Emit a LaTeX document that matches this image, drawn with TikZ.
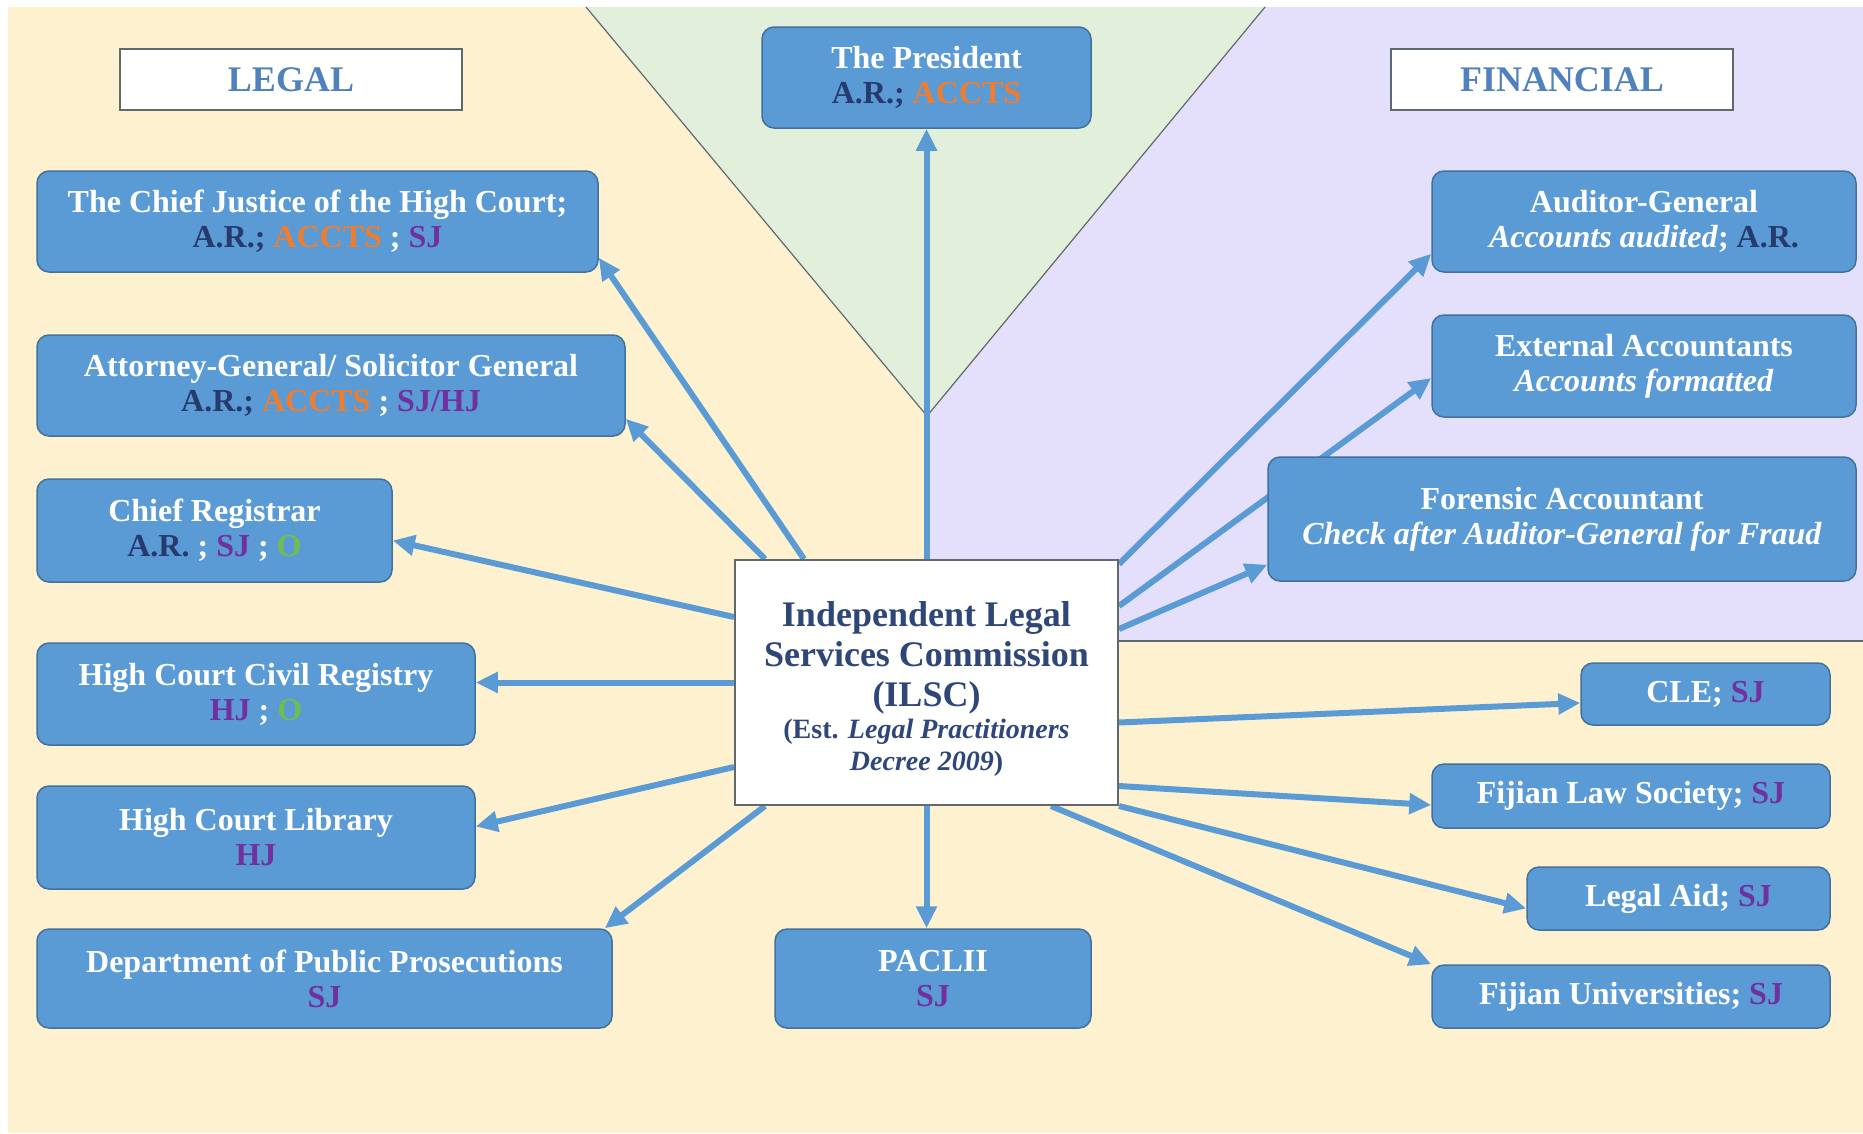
\documentclass[tikz,border=0pt]{standalone}
\usepackage{fontspec}
\setmainfont{Liberation Serif}
\usepackage{xcolor}
\usetikzlibrary{arrows.meta}

\definecolor{creambg}{RGB}{253,241,208}
\definecolor{greenbg}{RGB}{226,239,218}
\definecolor{lilacbg}{RGB}{228,223,250}
\definecolor{edgegray}{RGB}{95,105,110}
\definecolor{boxfill}{RGB}{91,155,213}
\definecolor{boxedge}{RGB}{65,113,156}
\definecolor{linkcol}{RGB}{91,155,213}
\definecolor{headtext}{RGB}{79,129,189}
\definecolor{centertext}{RGB}{47,70,120}
\definecolor{arcol}{RGB}{38,58,110}
\definecolor{acctscol}{RGB}{237,125,49}
\definecolor{sjcol}{RGB}{112,48,160}
\definecolor{ocol}{RGB}{112,190,80}

\newcommand{\AR}[1]{\textcolor{arcol}{#1}}
\newcommand{\ACC}{\textcolor{acctscol}{ACCTS}}
\newcommand{\SJ}[1]{\textcolor{sjcol}{#1}}
\newcommand{\Ok}{\textcolor{ocol}{O}}

\pgfdeclarelayer{regions}
\pgfdeclarelayer{links}
\pgfsetlayers{regions,links,main}

\tikzset{
  unitbox/.style={draw=boxedge, fill=boxfill, line width=1.5pt, rounded corners=12pt,
    text=white, align=center, inner sep=0pt, font=\bfseries\fontsize{32}{35}\selectfont},
  headbox/.style={draw=edgegray, fill=white, line width=2pt, text=headtext, inner sep=0pt,
    minimum width=342pt, minimum height=61pt, font=\bfseries\fontsize{36}{40}\selectfont},
  link/.style={draw=linkcol, line width=6pt, -{Triangle[length=22pt,width=20pt]}}
}

\begin{document}
\begin{tikzpicture}[x=1pt,y=1pt,yscale=-1,xscale=1]

\useasboundingbox (0,0) rectangle (1863,1133);

\begin{pgfonlayer}{regions}
\fill[white] (0,0) rectangle (1863,1133);

\fill[creambg] (8,7) rectangle (1863,1133);

\fill[greenbg] (586,7) -- (1265,7) -- (927,416) -- cycle;

\fill[lilacbg] (927,416) -- (1265,7) -- (1863,7) -- (1863,641) -- (927,641) -- cycle;

\draw[edgegray, line width=1.2pt] (586,7) -- (927,416) -- (1265,7);

\draw[edgegray, line width=1.2pt] (1118,641) -- (1863,641);
\end{pgfonlayer}

% headings
\node (legal) [headbox] at (291,79.5) {LEGAL};

\node (financial) [headbox] at (1562,79.5) {FINANCIAL};

% centre
\node (ilsc) [draw=edgegray, fill=white, line width=2pt, minimum width=383pt, minimum height=245pt,
  inner sep=0pt] at (926.5,682.5) {};

\node (ilsctext) [text=centertext, align=center, inner sep=0pt,
  font=\bfseries\fontsize{36}{40}\selectfont]
  at ([yshift=6pt]ilsc.center) {Independent Legal\\Services Commission\\(ILSC)\\[-8pt]
  {\fontsize{28}{32}\selectfont (Est. \textit{Legal Practitioners}}\\[-8pt]
  {\fontsize{28}{32}\selectfont \textit{Decree 2009})}};

\node (president) [unitbox, minimum width=329pt, minimum height=101pt] at (926.5,77.5)
  {The President\\\AR{A.R.;} \ACC};

% legal side
\node (cj) [unitbox, minimum width=561pt, minimum height=101pt] at (317.5,221.5)
  {The Chief Justice of the High Court;\\\AR{A.R.;} \ACC{} ; \SJ{SJ}};

\node (ag) [unitbox, minimum width=588pt, minimum height=101pt] at (331,385.5)
  {Attorney-General/ Solicitor General\\\AR{A.R.;} \ACC{} ; \SJ{SJ/HJ}};

\node (cr) [unitbox, minimum width=355pt, minimum height=103pt] at (214.5,530.5)
  {Chief Registrar\\\AR{A.R.} ; \SJ{SJ} ; \Ok};

\node (hccr) [unitbox, minimum width=438pt, minimum height=102pt] at (256,694)
  {High Court Civil Registry\\\SJ{HJ} ; \Ok};

\node (hcl) [unitbox, minimum width=438pt, minimum height=103pt] at (256,837.5)
  {High Court Library\\\SJ{HJ}};

\node (dpp) [unitbox, minimum width=575pt, minimum height=99pt] at (324.5,978.5)
  {Department of Public Prosecutions\\\SJ{SJ}};

\node (paclii) [unitbox, minimum width=316pt, minimum height=99pt] at (933,978.5)
  {PACLII\\\SJ{SJ}};

% financial side
\node (audit) [unitbox, minimum width=424pt, minimum height=101pt] at (1644,221.5)
  {Auditor-General\\\textit{Accounts audited}; \AR{A.R.}};

\node (extacc) [unitbox, minimum width=424pt, minimum height=102pt] at (1644,366)
  {External Accountants\\\textit{Accounts formatted}};

\node (forensic) [unitbox, minimum width=588pt, minimum height=124pt] at (1562,519)
  {Forensic Accountant\\\textit{Check after Auditor-General for Fraud}};

% lower right
\node (cle) [unitbox, minimum width=249pt, minimum height=62pt] at (1705.5,694)
  {CLE; \SJ{SJ}};

\node (fls) [unitbox, minimum width=398pt, minimum height=64pt] at (1631,796)
  {Fijian Law Society; \SJ{SJ}};

\node (legalaid) [unitbox, minimum width=303pt, minimum height=63pt] at (1678.5,898.5)
  {Legal Aid; \SJ{SJ}};

\node (fu) [unitbox, minimum width=398pt, minimum height=63pt] at (1631,996.5)
  {Fijian Universities; \SJ{SJ}};

\begin{pgfonlayer}{links}
\draw[link] (ilsc.north) -- (president.south);

\draw[link] ([xshift=70pt]ilsc.north west) -- ([yshift=-15pt]cj.south east);

\draw[link] ([xshift=31pt]ilsc.north west) -- ([yshift=-18pt]ag.south east);

\draw[link] ([yshift=58pt]ilsc.north west) -- ([yshift=10pt]cr.east);

\draw[link] (ilsc.west) -- (ilsc.west -| hccr.east);

\draw[link] ([yshift=-39pt]ilsc.south west) -- ([yshift=-11pt]hcl.east);

\draw[link] ([xshift=31pt]ilsc.south west) -- ([xshift=-8pt]dpp.north east);

\draw[link] (ilsc.south) -- (ilsc.south |- paclii.north);

\draw[link] ([yshift=5pt]ilsc.north east) -- ([yshift=-19pt]audit.south west);

\draw[link] ([yshift=47pt]ilsc.north east) -- ([yshift=12pt]extacc.west);

\draw[link] ([yshift=70pt]ilsc.north east) -- ([yshift=-17pt]forensic.south west);

\draw[link] ([yshift=40pt]ilsc.east) -- ([yshift=9pt]cle.west);

\draw[link] ([yshift=-20pt]ilsc.south east) -- ([yshift=9pt]fls.west);

\draw[link] (ilsc.south east) -- ([yshift=10pt]legalaid.west);

\draw[link] ([xshift=-68pt]ilsc.south east) -- (fu.north west);
\end{pgfonlayer}

\end{tikzpicture}
\end{document}
